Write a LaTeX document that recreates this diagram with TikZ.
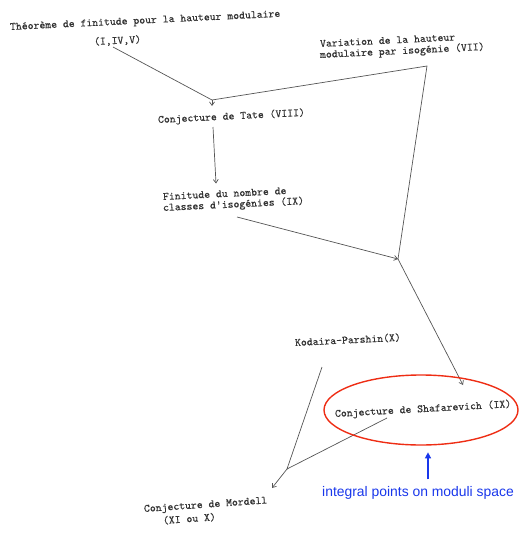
\documentclass[tikz,border=0pt]{standalone}
\usepackage{fontspec}
\newfontfamily\bluefont{Liberation Sans}
\newfontfamily\typefont{lmmono10-regular.otf}[FakeBold=0.35]
\usetikzlibrary{arrows.meta,calc}
\definecolor{ink}{RGB}{85,85,85}
\definecolor{ovalred}{RGB}{238,45,20}
\definecolor{noteblue}{RGB}{25,55,235}
\tikzset{
  txt/.style={font=\typefont\fontsize{11.2}{12}\selectfont, inner sep=0pt, anchor=base west, rotate=2.8, text=black!80},
  link/.style={draw=ink, line width=0.7pt},
  arr/.style={link, -{Straight Barb[length=3.5pt,width=5pt]}},
}
\begin{document}
\begin{tikzpicture}[x=1pt,y=-1pt]
\useasboundingbox (0,0) rectangle (521,538);
% texts (placed by left end of baseline)
\node[txt] (t1) at (10,30) {Théorème de finitude pour la hauteur modulaire};
\node[txt] (t2) at (94,45) {(I,IV,V)};
\node[txt] (v1) at (320,47) {Variation de la hauteur};
\node[txt] (v2) at (320,58) {modulaire par isogénie (VII)};
\node[txt] (tate) at (158,123) {Conjecture de Tate (VIII)};
\node[txt] (f1) at (163,200) {Finitude du nombre de};
\node[txt] (f2) at (163,211) {classes d'isogénies (IX)};
\node[txt] (kod) at (295,346) {Kodaira-Parshin(X)};
\node[txt, rotate=0.4] (shaf) at (335,417) {Conjecture de Shafarevich (IX)};
\node[txt, rotate=1.2] (m1) at (144,512) {Conjecture de Mordell};
\node[txt, rotate=1.2] (m2) at (163,524) {(XI ou X)};
\node[font=\bluefont\fontsize{13.9}{16}\selectfont, text=noteblue, inner sep=1pt] (note) at (418,493) {integral points on moduli space};
% junctions
\coordinate (j1) at (212,100);
\coordinate (c1) at (427,66);
\coordinate (j2) at (398,259);
\coordinate (j3) at (287,469);
% connectors
\draw[link] ($(t2.base west)+(19,2)$) -- (j1);
\draw[arr] (j1) -- ($(tate.base west)+(54,-17)$);
\draw[link] (j1) -- (c1) -- (j2);
\draw[arr] ($(tate.base west)+(55,4)$) -- ($(f1.base west)+(53,-16.5)$);
\draw[arr] ($(f2.base west)+(74,6)$) -- (j2);
\draw[arr] (j2) -- ($(shaf.base west)+(128,-32)$);
\draw[link] ($(kod.base west)+(27,21)$) -- (j3);
\draw[link] ($(shaf.base west)+(52,1)$) -- (j3);
\draw[arr] (j3) -- ($(m1.base west)+(128,-24)$);
% oval
\draw[ovalred, line width=1.4pt] (421,410) ellipse [x radius=97pt, y radius=35pt];
\draw[noteblue, line width=1.3pt, -{Triangle[length=6pt,width=6pt]}] ($(note.north)+(10,-6)$) -- ($(note.north)+(10,-33)$);
\end{tikzpicture}
\end{document}
